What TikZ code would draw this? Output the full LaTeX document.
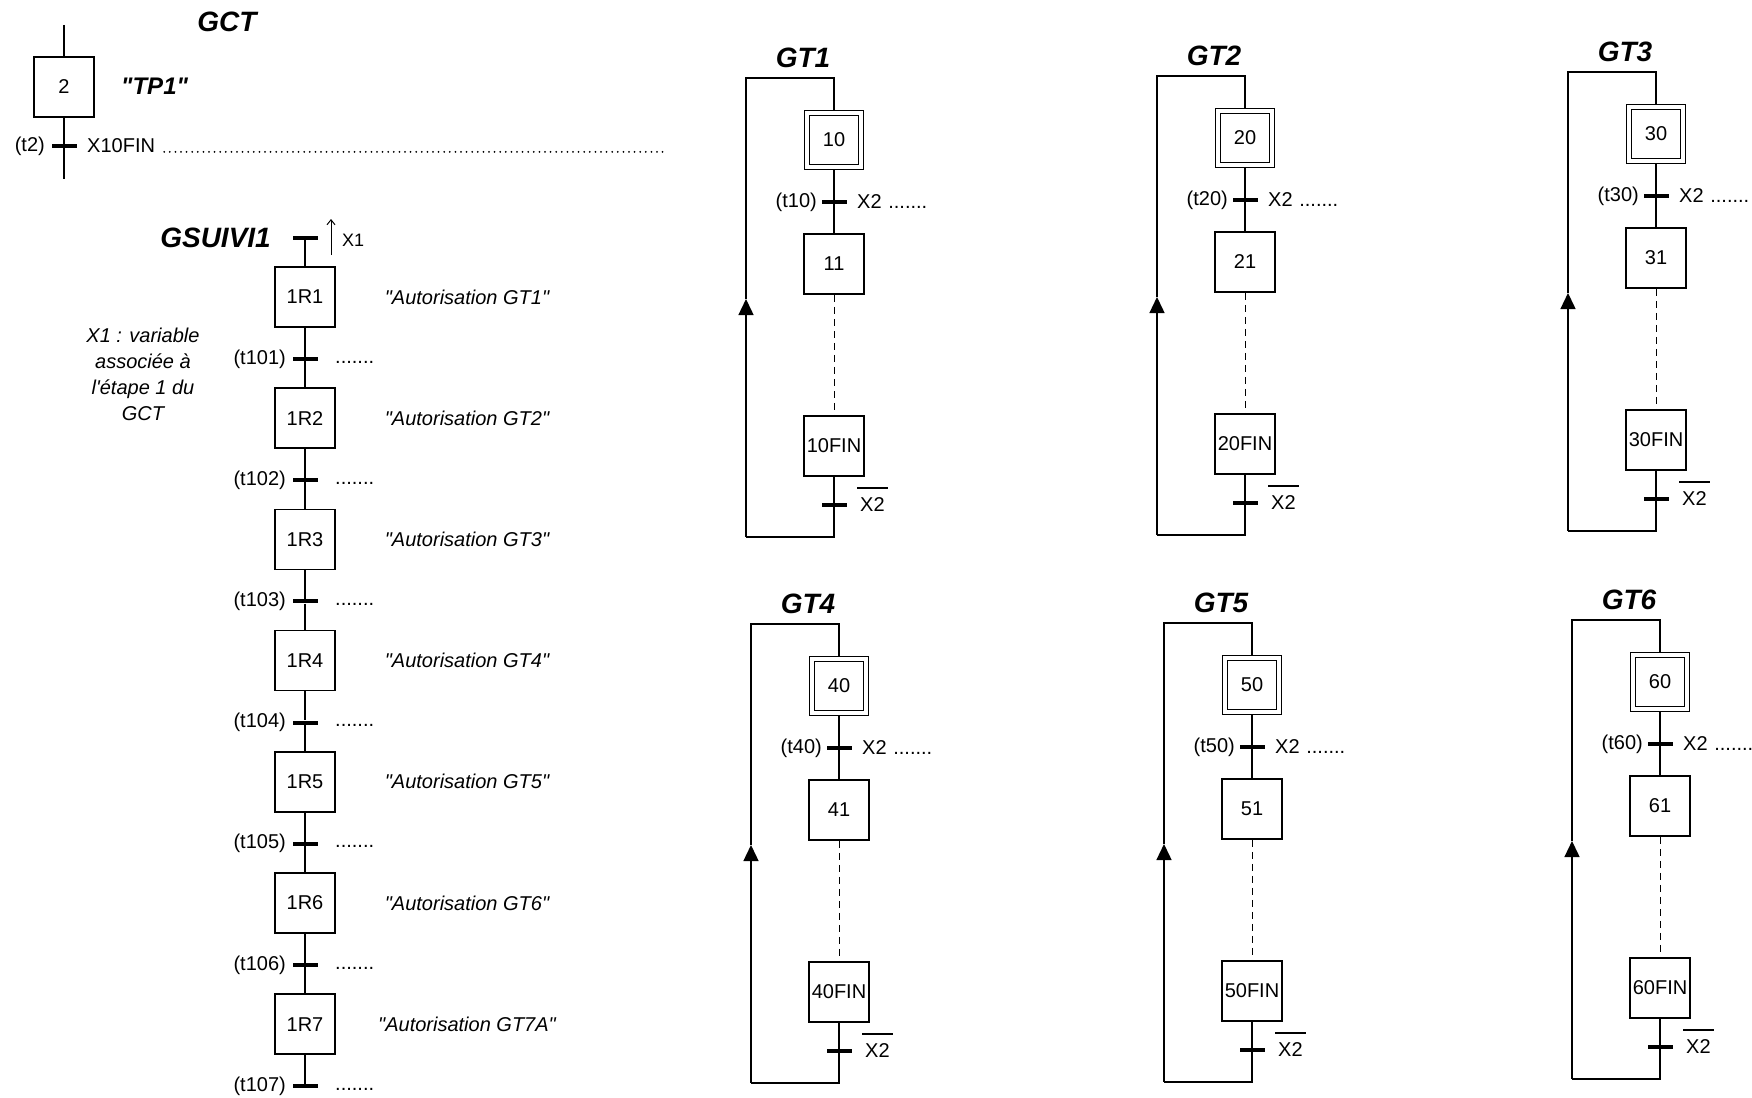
\documentclass[tikz,border=0pt]{standalone}
\usepackage{fontspec}
\setmainfont{Liberation Sans}[Ligatures=TeXOff]
\usetikzlibrary{arrows.meta}

\tikzset{
  stepbox/.style={draw, line width=1.6pt, fill=white, minimum size=60pt, inner sep=1pt,
    font=\fontsize{20}{24}\selectfont},
  initstep/.style={stepbox, minimum size=54pt, double, double distance=3.5pt,
    line width=1.4pt, outer sep=3.2pt},
  tbar/.style={fill=black, minimum width=25pt, minimum height=4pt, inner sep=0pt},
  txt/.style={font=\fontsize{20}{24}\selectfont, inner sep=0pt},
  remark/.style={font=\fontsize{20}{26}\selectfont\itshape, inner sep=0pt, align=center},
  grtitle/.style={font=\fontsize{28}{32}\selectfont\bfseries\itshape, inner sep=0pt},
  link/.style={line width=1.4pt},
  dotline/.style={line width=2pt, dash pattern=on 0pt off 5.6pt, line cap=round},
}

\begin{document}
\begin{tikzpicture}[x=1pt,y=-1pt]
\useasboundingbox (0,0) rectangle (1752,1097);

% GCT
\node[grtitle] (gct) at (227,22) {GCT};
\coordinate (g0) at (64,25);
\node[stepbox] (s2) at (64,87) {2};
\node[tbar] (t2) at (64,146) {};
\coordinate (g1) at (64,179);
\draw[link] (g0) -- (s2);
\draw[link] (s2) -- (g1);
\node[txt, anchor=east] (t2lab) at (45,146) {(t2)};
\node[txt, anchor=west] (x10fin) at (87,146) {X10FIN};
\draw[dotline] ([shift={(9pt,1pt)}]x10fin.base east) -- +(502,0);
\node[font=\fontsize{24}{28}\selectfont\bfseries\itshape, anchor=west, inner sep=0pt] (tp1) at (121,86) {"TP1"};

% GSUIVI1
\node[grtitle, anchor=east] (gsuivi) at (271,238) {GSUIVI1};
\node[tbar] (tr0) at (305,238) {};
\coordinate (x1a) at (331,255);
\coordinate (x1b) at (331,219);
\draw[line width=1pt, -{Straight Barb[length=5pt,width=8pt]}] (x1a) -- (x1b);
\node[txt, font=\fontsize{18}{22}\selectfont, anchor=west] (x1) at (342,240) {X1};
\node[remark] (x1rem) at (143,374) {X1 : variable\\associée à\\l'étape 1 du\\GCT};

\foreach \k/\gt in {1/GT1,2/GT2,3/GT3,4/GT4,5/GT5,6/GT6,7/GT7A}{
  \pgfmathsetmacro{\ys}{297+121.2*(\k-1)}
  \pgfmathsetmacro{\yt}{359+121.2*(\k-1)}
  \pgfmathtruncatemacro{\prev}{\k-1}
  \node[stepbox] (r\k) at (305,\ys) {1R\k};
  \node[txt, font=\fontsize{20}{24}\selectfont\itshape] (a\k) at (467,\ys) {"Autorisation \gt"};
  \node[tbar] (tr\k) at (305,\yt) {};
  \node[txt, anchor=east] (tl\k) at (286,\yt) {(t10\k)};
  \node[txt, anchor=west] (td\k) at (335,\yt+3) {.......};
  \draw[link] (tr\prev) -- (r\k);
  \draw[link] (r\k) -- (tr\k);
}

% GT1 ... GT6
\foreach \g/\cx/\ty in {1/834/58,2/1245/56,3/1656/52,4/839/604,5/1252/603,6/1660/600}{
  \node[grtitle] (gt\g) at (\cx-31,\ty) {GT\g};
  \node[initstep] (s\g0) at (\cx,\ty+82) {\g0};
  \node[tbar] (t\g0) at (\cx,\ty+144) {};
  \node[stepbox] (s\g1) at (\cx,\ty+206) {\g1};
  \node[stepbox] (s\g0fin) at (\cx,\ty+388) {\g0FIN};
  \node[tbar] (tfin\g) at (\cx,\ty+447) {};
  \coordinate (b\g) at (\cx-88,\ty+479);
  \coordinate (m\g) at (\cx-88,\ty+241);
  \coordinate (l\g) at (\cx-88,\ty+20);
  \node[txt, anchor=east] (tl\g) at (\cx-17,\ty+144) {(t\g0)};
  \node[txt, anchor=west] (cnd\g) at (\cx+23,\ty+144) {X2\,\,.......};
  \node[txt, anchor=west] (nx\g) at (\cx+26,\ty+447) {X2};
  \draw[link] ([shift={(-3pt,10pt)}]nx\g.north west) -- ([shift={(3pt,10pt)}]nx\g.north east);
  \draw[link] (s\g0) -- (s\g1);
  \draw[line width=1pt, dash pattern=on 7pt off 5pt] (s\g1) -- (s\g0fin);
  \draw[link] (s\g0fin) |- (b\g);
  \draw[link, -{Triangle[width=15pt,length=16pt]}] (b\g) -- (m\g);
  \draw[link] (m\g) -- (l\g) -| (s\g0);
}
\end{tikzpicture}
\end{document}
